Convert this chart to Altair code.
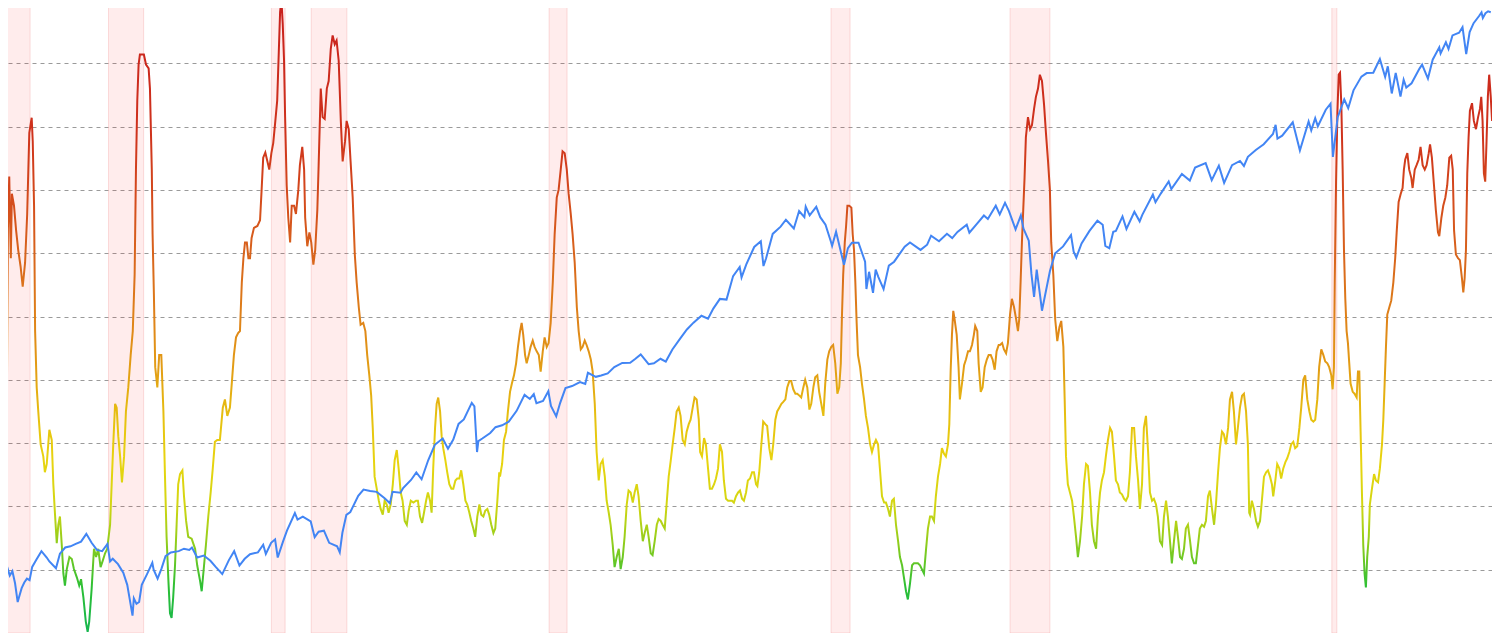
import altair as alt
import pandas as pd

# Recession periods (decimal years)
rec_start = [1969.92, 1973.84, 1980.01, 1981.52, 1990.53, 2001.21, 2007.99, 2020.18]
rec_end = [1970.87, 1975.17, 1980.53, 1982.87, 1991.21, 2001.93, 2009.50, 2020.37]

# Indicator (coloured line), 0-100 scale
c_years = [
    1969.99, 1970.03, 1970.08, 1970.14, 1970.18, 1970.26, 1970.34, 1970.42, 1970.51, 1970.59,
    1970.68, 1970.76, 1970.84, 1970.93, 1970.97, 1971.02, 1971.06, 1971.12, 1971.18, 1971.27,
    1971.37, 1971.43, 1971.50, 1971.60, 1971.69, 1971.75, 1971.81, 1971.88, 1971.94, 1972.00,
    1972.07, 1972.13, 1972.19, 1972.26, 1972.36, 1972.45, 1972.53, 1972.64, 1972.73, 1972.80,
    1972.89, 1972.98, 1973.05, 1973.11, 1973.20, 1973.29, 1973.37, 1973.45, 1973.54, 1973.62,
    1973.71, 1973.79, 1973.90, 1973.96, 1974.02, 1974.09, 1974.15, 1974.21, 1974.28, 1974.35,
    1974.43, 1974.50, 1974.59, 1974.68, 1974.76, 1974.83, 1974.88, 1974.93, 1974.98, 1975.03,
    1975.18, 1975.26, 1975.36, 1975.41, 1975.48, 1975.51, 1975.56, 1975.61, 1975.69, 1975.76,
    1975.84, 1975.92, 1975.98, 1976.04, 1976.11, 1976.17, 1976.23, 1976.29, 1976.36, 1976.42,
    1976.48, 1976.55, 1976.64, 1976.70, 1976.78, 1976.86, 1976.99, 1977.12, 1977.20, 1977.31,
    1977.37, 1977.46, 1977.53, 1977.62, 1977.71, 1977.79, 1977.87, 1977.96, 1978.06, 1978.17,
    1978.25, 1978.34, 1978.44, 1978.52, 1978.59, 1978.67, 1978.75, 1978.82, 1978.89, 1978.95,
    1979.01, 1979.08, 1979.14, 1979.20, 1979.26, 1979.35, 1979.48, 1979.58, 1979.64, 1979.70,
    1979.78, 1979.86, 1979.93, 1980.01, 1980.08, 1980.16, 1980.23, 1980.29, 1980.34, 1980.39,
    1980.44, 1980.49, 1980.53, 1980.59, 1980.65, 1980.72, 1980.78, 1980.87, 1980.94, 1981.03,
    1981.09, 1981.18, 1981.25, 1981.29, 1981.37, 1981.45, 1981.52, 1981.60, 1981.67, 1981.75,
    1981.80, 1981.88, 1981.95, 1982.03, 1982.11, 1982.18, 1982.26, 1982.33, 1982.41, 1982.48,
    1982.56, 1982.64, 1982.71, 1982.80, 1982.86, 1982.94, 1983.01, 1983.09, 1983.17, 1983.24,
    1983.32, 1983.39, 1983.49, 1983.57, 1983.64, 1983.72, 1983.79, 1983.85, 1983.92, 1984.00,
    1984.08, 1984.15, 1984.23, 1984.30, 1984.38, 1984.45, 1984.53, 1984.61, 1984.68, 1984.76,
    1984.83, 1984.91, 1984.98, 1985.06, 1985.14, 1985.21, 1985.29, 1985.39, 1985.49, 1985.56,
    1985.64, 1985.72, 1985.79, 1985.87, 1985.94, 1986.02, 1986.08, 1986.14, 1986.21, 1986.27,
    1986.33, 1986.40, 1986.46, 1986.52, 1986.60, 1986.67, 1986.75, 1986.83, 1986.90, 1986.98,
    1987.05, 1987.13, 1987.20, 1987.28, 1987.36, 1987.43, 1987.51, 1987.58, 1987.66, 1987.73,
    1987.81, 1987.89, 1987.96, 1988.04, 1988.11, 1988.19, 1988.26, 1988.34, 1988.42, 1988.49,
    1988.57, 1988.64, 1988.67, 1988.75, 1988.82, 1988.90, 1988.97, 1989.05, 1989.12, 1989.20,
    1989.28, 1989.35, 1989.43, 1989.49, 1989.55, 1989.62, 1989.68, 1989.76, 1989.83, 1989.91,
    1989.98, 1990.06, 1990.14, 1990.21, 1990.29, 1990.36, 1990.44, 1990.51, 1990.59, 1990.67,
    1990.74, 1990.82, 1990.89, 1990.97, 1991.04, 1991.12, 1991.20, 1991.27, 1991.35, 1991.42,
    1991.50, 1991.58, 1991.65, 1991.73, 1991.80, 1991.88, 1991.95, 1992.03, 1992.11, 1992.18,
    1992.26, 1992.33, 1992.41, 1992.48, 1992.56, 1992.64, 1992.71, 1992.79, 1992.86, 1992.94,
    1993.01, 1993.09, 1993.17, 1993.24, 1993.32, 1993.39, 1993.47, 1993.54, 1993.62, 1993.70,
    1993.77, 1993.85, 1993.92, 1994.00, 1994.08, 1994.15, 1994.23, 1994.30, 1994.38, 1994.45,
    1994.53, 1994.61, 1994.68, 1994.76, 1994.83, 1994.91, 1994.98, 1995.06, 1995.14, 1995.21,
    1995.29, 1995.36, 1995.44, 1995.51, 1995.59, 1995.67, 1995.74, 1995.82, 1995.89, 1995.97,
    1996.04, 1996.12, 1996.20, 1996.25, 1996.32, 1996.40, 1996.47, 1996.55, 1996.62, 1996.70,
    1996.78, 1996.85, 1996.93, 1997.00, 1997.08, 1997.15, 1997.23, 1997.31, 1997.38, 1997.46,
    1997.53, 1997.61, 1997.69, 1997.76, 1997.84, 1997.91, 1997.99, 1998.06, 1998.14, 1998.22,
    1998.29, 1998.37, 1998.42, 1998.49, 1998.57, 1998.64, 1998.72, 1998.79, 1998.87, 1998.95,
    1999.02, 1999.10, 1999.17, 1999.25, 1999.33, 1999.40, 1999.48, 1999.55, 1999.63, 1999.70,
    1999.78, 1999.86, 1999.93, 2000.01, 2000.08, 2000.16, 2000.23, 2000.31, 2000.39, 2000.46,
    2000.54, 2000.61, 2000.69, 2000.76, 2000.84, 2000.92, 2000.99, 2001.07, 2001.14, 2001.22,
    2001.29, 2001.37, 2001.45, 2001.52, 2001.58, 2001.62, 2001.67, 2001.73, 2001.78, 2001.83,
    2001.90, 2001.98, 2002.03, 2002.08, 2002.13, 2002.18, 2002.23, 2002.31, 2002.38, 2002.46,
    2002.53, 2002.61, 2002.69, 2002.76, 2002.84, 2002.91, 2002.99, 2003.06, 2003.14, 2003.22,
    2003.29, 2003.37, 2003.44, 2003.52, 2003.59, 2003.67, 2003.75, 2003.82, 2003.90, 2003.97,
    2004.05, 2004.12, 2004.20, 2004.28, 2004.35, 2004.43, 2004.50, 2004.58, 2004.65, 2004.73,
    2004.81, 2004.88, 2004.96, 2005.03, 2005.11, 2005.18, 2005.26, 2005.34, 2005.41, 2005.49,
    2005.56, 2005.64, 2005.69, 2005.74, 2005.79, 2005.84, 2005.89, 2005.97, 2006.04, 2006.09,
    2006.17, 2006.25, 2006.32, 2006.40, 2006.47, 2006.55, 2006.62, 2006.67, 2006.75, 2006.80,
    2006.88, 2006.95, 2007.03, 2007.11, 2007.18, 2007.26, 2007.33, 2007.41, 2007.48, 2007.56,
    2007.61, 2007.69, 2007.76, 2007.84, 2007.91, 2007.99, 2008.06, 2008.14, 2008.22, 2008.29,
    2008.34, 2008.39, 2008.44, 2008.49, 2008.54, 2008.59, 2008.67, 2008.75, 2008.82, 2008.90,
    2008.97, 2009.05, 2009.12, 2009.20, 2009.28, 2009.35, 2009.43, 2009.50, 2009.55, 2009.63,
    2009.70, 2009.78, 2009.86, 2009.93, 2010.01, 2010.06, 2010.11, 2010.18, 2010.26, 2010.34,
    2010.41, 2010.49, 2010.56, 2010.64, 2010.72, 2010.79, 2010.87, 2010.94, 2011.02, 2011.09,
    2011.17, 2011.25, 2011.32, 2011.40, 2011.47, 2011.55, 2011.62, 2011.70, 2011.78, 2011.85,
    2011.93, 2012.00, 2012.08, 2012.15, 2012.23, 2012.31, 2012.38, 2012.46, 2012.53, 2012.61,
    2012.69, 2012.76, 2012.84, 2012.91, 2012.99, 2013.06, 2013.14, 2013.22, 2013.29, 2013.37,
    2013.44, 2013.52, 2013.59, 2013.67, 2013.75, 2013.82, 2013.90, 2013.97, 2014.05, 2014.12,
    2014.20, 2014.28, 2014.35, 2014.43, 2014.50, 2014.58, 2014.65, 2014.73, 2014.81, 2014.88,
    2014.96, 2015.03, 2015.11, 2015.18, 2015.26, 2015.34, 2015.41, 2015.49, 2015.56, 2015.64,
    2015.72, 2015.79, 2015.87, 2015.94, 2016.02, 2016.09, 2016.17, 2016.25, 2016.32, 2016.40,
    2016.47, 2016.55, 2016.62, 2016.70, 2016.78, 2016.85, 2016.93, 2017.00, 2017.05, 2017.08,
    2017.15, 2017.23, 2017.31, 2017.38, 2017.46, 2017.53, 2017.61, 2017.69, 2017.76, 2017.84,
    2017.91, 2017.96, 2018.04, 2018.11, 2018.19, 2018.26, 2018.34, 2018.42, 2018.49, 2018.57,
    2018.64, 2018.72, 2018.79, 2018.87, 2018.95, 2019.02, 2019.10, 2019.17, 2019.25, 2019.33,
    2019.40, 2019.48, 2019.55, 2019.63, 2019.70, 2019.78, 2019.86, 2019.93, 2020.01, 2020.08,
    2020.16, 2020.21, 2020.26, 2020.29, 2020.34, 2020.39, 2020.44, 2020.49, 2020.54, 2020.59,
    2020.64, 2020.69, 2020.74, 2020.79, 2020.84, 2020.89, 2020.97, 2021.04, 2021.12, 2021.17,
    2021.22, 2021.27, 2021.32, 2021.37, 2021.42, 2021.47, 2021.52, 2021.58, 2021.62, 2021.70,
    2021.78, 2021.85, 2021.93, 2022.00, 2022.08, 2022.13, 2022.18, 2022.23, 2022.28, 2022.36,
    2022.43, 2022.51, 2022.58, 2022.64, 2022.71, 2022.79, 2022.86, 2022.91, 2022.96, 2023.04,
    2023.11, 2023.19, 2023.24, 2023.32, 2023.39, 2023.47, 2023.54, 2023.62, 2023.70, 2023.77,
    2023.85, 2023.90, 2023.97, 2024.05, 2024.12, 2024.20, 2024.25, 2024.33, 2024.40, 2024.48,
    2024.55, 2024.63, 2024.70, 2024.76, 2024.81, 2024.88, 2024.96, 2025.03, 2025.11, 2025.16,
    2025.21, 2025.26, 2025.31, 2025.36, 2025.41, 2025.49, 2025.56, 2025.64, 2025.72, 2025.79,
    2025.84, 2025.89, 2025.94, 2025.99, 2026.04, 2026.09, 2026.14, 2026.20, 2026.25,
]
c_values = [
    37.2, 63.8, 72.1, 59.2, 69.4, 67.5, 63.6, 60.5, 57.9, 54.7,
    58.5, 66.2, 79, 81.4, 77.7, 67.5, 47.7, 38.8, 35, 29.8,
    27.9, 25.4, 26.7, 32.1, 30.5, 23.5, 19, 14.2, 17.1, 18.4,
    13.9, 9.4, 7.5, 10.1, 12, 11.7, 10.1, 8.8, 7.5, 8.5,
    5.6, 1.8, 0.2, 1.8, 6.9, 13.3, 12, 13.3, 10.4, 11.4,
    12.6, 13.3, 17.1, 23.5, 29.8, 36.2, 35.6, 31.1, 27.9, 23.8,
    27.9, 35, 38.8, 43.9, 47.7, 56.6, 73.2, 84.1, 89.8, 91.4,
    91.4, 89.8, 89.2, 86, 73.2, 63, 53.4, 42, 38.8, 43.9,
    43.9, 35, 24.7, 15.2, 8.2, 3.1, 2.4, 5.6, 10.7, 17.1,
    23.5, 25.1, 25.7, 21.6, 17.7, 15.2, 14.9, 13.3, 10.7, 8.2,
    6.6, 10.7, 13.9, 18.4, 22.2, 26, 30.2, 30.5, 30.5, 35.6,
    36.9, 34.3, 35.6, 40, 43.9, 46.7, 47.4, 47.7, 55.4, 59.2,
    61.7, 61.7, 59.2, 59.2, 62.4, 64, 64.3, 65.2, 70, 75.1,
    75.9, 74.5, 73.2, 75.8, 77.4, 80.9, 84.1, 91.7, 98.1, 100,
    96.2, 90.4, 81.5, 70.7, 65.6, 61.7, 67.5, 67.5, 66.2, 70,
    73.9, 76.8, 73.2, 65.6, 61.1, 63.3, 61.7, 58.2, 60.5, 66.8,
    73.9, 86, 81.5, 81.2, 86, 87.2, 92.3, 94.4, 93, 93.6,
    90.4, 80.9, 74.5, 77.7, 80.9, 79.6, 74.5, 68.8, 59.8, 55.4,
    51.5, 48.7, 49, 47.7, 43.9, 40.7, 37.5, 32.4, 24.7, 22.8,
    20.9, 19.6, 18.7, 20.9, 20.3, 19, 20.3, 23.5, 27.3, 28.9,
    26, 22.2, 20.9, 17.7, 17.1, 19.3, 20.9, 20.6, 20.9, 20.9,
    18.4, 17.4, 19, 20.9, 22.2, 20.9, 19, 26, 32.4, 36.2,
    37.2, 35, 31.1, 29.2, 27.3, 25.4, 23.5, 22.8, 22.8, 24.1,
    24.4, 24.4, 25.7, 23.5, 20.9, 20.3, 19, 17.7, 16.5, 15.2,
    18.4, 20.3, 18.7, 18.4, 19.3, 19.6, 18.7, 17.1, 15.8, 16.5,
    20.9, 25.4, 24.7, 26.7, 30.5, 31.8, 35, 38.1, 39.4, 40.7,
    42.6, 45.2, 47.7, 49, 47.1, 43.9, 42.6, 43.9, 45.2, 46.2,
    45.2, 44.5, 43.9, 41.3, 44.5, 46.7, 45.2, 45.8, 49, 55.4,
    63, 68.8, 70, 73.2, 76.1, 75.8, 73.2, 69.4, 66.2, 63,
    58.5, 51.5, 47.7, 44.8, 45.2, 46.2, 45.5, 44.5, 43.2, 41.3,
    36.2, 28.6, 24.1, 26.7, 27.3, 24.7, 20.9, 19, 17.1, 13.9,
    10.4, 12, 13.3, 10.1, 12, 15.2, 20.3, 22.5, 22.2, 20.6,
    22.2, 23.5, 21.6, 17.7, 14.5, 15.8, 17.1, 15.2, 12.6, 12.3,
    14.5, 17.1, 18, 17.7, 17.1, 16.5, 20.3, 24.7, 27.3, 29.8,
    32.4, 35, 35.6, 34.3, 30.5, 29.8, 31.8, 33, 33.7, 35.6,
    37.2, 36.9, 33.7, 28.6, 27.9, 30.8, 29.8, 26, 22.8, 22.8,
    23.5, 24.4, 26, 29.8, 28.6, 24.1, 21.2, 20.9, 20.9, 20.9,
    20.6, 21.6, 22.2, 22.5, 21.2, 20.9, 22.2, 24.1, 24.4, 25.4,
    25.4, 23.5, 23.2, 25.4, 29.8, 33.4, 33, 32.7, 29.2, 27.3,
    29.8, 33.7, 35, 35.6, 36.2, 36.5, 36.9, 38.8, 39.8, 39.8,
    38.5, 37.8, 37.8, 37.5, 37.2, 38.8, 40, 38.8, 35.3, 36.2,
    38.8, 40.4, 40.7, 38.1, 36.2, 34.3, 39.4, 43.2, 44.5, 45.2,
    45.5, 42.6, 37.8, 38.8, 42.6, 49.6, 56.6, 61.7, 64.3, 67.5,
    67.5, 67.2, 63, 60.5, 55.4, 49, 43.9, 42, 39.4, 36.9,
    34.3, 32.4, 29.8, 28.6, 29.8, 30.5, 29.8, 26, 21.6, 20.6,
    20.6, 19.6, 18.4, 20.9, 21.2, 17.1, 14.5, 12, 10.7, 8.8,
    6.6, 5.3, 7.8, 10.7, 11, 11, 11, 10.7, 10.1, 9.4,
    13.3, 16.5, 18.4, 18.4, 17.7, 21.6, 24.7, 26.7, 29.2, 28.3,
    27.9, 29.8, 33, 41.3, 47.1, 50.9, 49.6, 47.1, 42, 36.9,
    39.4, 42.3, 43.2, 44.5, 44.5, 45.5, 47.1, 48.5, 47.7, 42.6,
    38.1, 38.8, 42, 43.2, 43.9, 43.9, 43.2, 41.6, 44.5, 45.5,
    45.5, 45.8, 44.8, 44.2, 45.8, 50.3, 52.8, 51.5, 49.6, 47.7,
    49.6, 55.4, 61.7, 66.8, 71.9, 78.3, 81.5, 79.6, 80.2, 82.8,
    84.7, 86, 88.2, 87.2, 83.4, 79, 74.5, 70, 61.7, 56.6,
    49.6, 46.1, 48.3, 49.3, 45.2, 36.9, 27.9, 23.5, 22.2, 20.9,
    18.4, 15.2, 12, 14.5, 18.4, 23.5, 26.7, 26.4, 22.2, 17.1,
    14.5, 13.3, 18.4, 22.2, 24.1, 25.4, 27.9, 30.5, 32.4, 31.8,
    27.9, 24.1, 23.5, 22.2, 21.9, 21.2, 20.9, 21.6, 25.4, 32.4,
    32.4, 27.9, 24.1, 19.6, 23.5, 32.4, 34.3, 28.6, 22.2, 20.9,
    21.2, 20.3, 18.4, 14.5, 13.9, 18.4, 20.9, 18.4, 14.5, 11,
    14.5, 17.7, 15.2, 12, 11.7, 13.3, 16.5, 17.1, 14.5, 12,
    11, 11, 13.9, 16.5, 17.1, 16.8, 17.7, 21.6, 22.5, 19.6,
    17.1, 20.3, 25.4, 29.2, 31.8, 31.4, 29.8, 32.4, 36.9, 38.1,
    35, 29.8, 32.4, 35.6, 37.5, 37.8, 35, 29.8, 19, 18.7,
    20.9, 19.6, 17.7, 16.8, 17.7, 20.9, 24.7, 25.4, 25.7, 24.7,
    23.5, 21.6, 24.1, 26.7, 26, 24.4, 26, 27, 27.6, 28.6,
    29.8, 30.2, 29.2, 29.5, 32.4, 35.6, 40, 40.7, 36.9, 35,
    33.7, 33.4, 33.7, 36.9, 42, 44.8, 43.9, 42.9, 42.6, 42,
    40.7, 38.5, 42, 55.4, 71.3, 82.1, 88.2, 88.5, 83.4, 73.2,
    60.5, 52.8, 47.7, 45.8, 42.6, 39.4, 38.1, 37.8, 37.2, 41.3,
    41.3, 31.8, 22.2, 13.9, 9.4, 7.2, 12, 15.2, 20.3, 22.8,
    25.1, 24.1, 23.8, 26, 29.8, 33.7, 39.4, 45.2, 50.3, 51.5,
    52.5, 55.4, 59.2, 63.6, 68.1, 69.4, 70.3, 73.2, 74.8, 75.8,
    73.2, 71.9, 70.3, 73.2, 73.9, 74.8, 76.8, 73.9, 73.2, 73.9,
    75.8, 77.2, 75.1, 70.7, 66.8, 63.3, 62.7, 65.6, 67.5, 68.8,
    70.7, 75.1, 75.4, 73.2, 63.6, 59.8, 59.2, 58.9, 56, 53.8,
    56, 60.5, 72.6, 78.3, 82.5, 83.7, 80.9, 79.6, 81.5, 82.8,
    84.7, 80.9, 72.6, 71.3, 77.7, 84.7, 88.2, 84.7, 80.9,
]

# S&P 500 (log scale)
spx_years = [
    1970.00, 1970.10, 1970.20, 1970.30, 1970.40, 1970.45, 1970.55, 1970.65, 1970.75, 1970.85,
    1970.95, 1971.10, 1971.30, 1971.50, 1971.60, 1971.85, 1972.00, 1972.20, 1972.40, 1972.60,
    1972.80, 1973.00, 1973.20, 1973.40, 1973.60, 1973.80, 1973.90, 1974.00, 1974.20, 1974.40,
    1974.55, 1974.65, 1974.75, 1974.80, 1974.90, 1975.00, 1975.10, 1975.30, 1975.50, 1975.55,
    1975.70, 1975.85, 1976.00, 1976.20, 1976.50, 1976.70, 1976.90, 1977.00, 1977.20, 1977.45,
    1977.70, 1977.90, 1978.15, 1978.40, 1978.60, 1978.80, 1979.00, 1979.20, 1979.50, 1979.70,
    1979.80, 1980.00, 1980.15, 1980.25, 1980.45, 1980.60, 1980.90, 1981.00, 1981.20, 1981.50,
    1981.65, 1981.80, 1982.00, 1982.20, 1982.50, 1982.60, 1982.70, 1982.85, 1983.00, 1983.30,
    1983.50, 1983.75, 1984.00, 1984.30, 1984.50, 1984.60, 1984.90, 1985.00, 1985.30, 1985.50,
    1985.70, 1985.95, 1986.20, 1986.50, 1986.70, 1986.90, 1987.10, 1987.30, 1987.60, 1987.70,
    1987.80, 1987.85, 1988.00, 1988.30, 1988.50, 1988.75, 1989.00, 1989.30, 1989.60, 1989.80,
    1989.95, 1990.05, 1990.30, 1990.50, 1990.60, 1990.80, 1990.95, 1991.15, 1991.40, 1991.70,
    1991.90, 1992.00, 1992.30, 1992.50, 1992.75, 1993.00, 1993.30, 1993.60, 1993.80, 1994.00,
    1994.30, 1994.50, 1994.75, 1994.95, 1995.20, 1995.50, 1995.75, 1996.00, 1996.30, 1996.55,
    1996.75, 1997.00, 1997.25, 1997.50, 1997.75, 1997.82, 1998.00, 1998.30, 1998.55, 1998.65,
    1998.75, 1999.00, 1999.30, 1999.50, 1999.80, 2000.00, 2000.20, 2000.25, 2000.40, 2000.65,
    2000.80, 2001.00, 2001.20, 2001.25, 2001.40, 2001.70, 2001.85, 2002.00, 2002.25, 2002.50,
    2002.55, 2002.65, 2002.80, 2002.90, 2003.00, 2003.20, 2003.40, 2003.60, 2003.80, 2004.00,
    2004.20, 2004.60, 2004.85, 2005.00, 2005.30, 2005.60, 2005.80, 2006.00, 2006.35, 2006.45,
    2006.75, 2007.00, 2007.15, 2007.45, 2007.60, 2007.80, 2007.95, 2008.20, 2008.40, 2008.50,
    2008.70, 2008.80, 2008.90, 2009.00, 2009.15, 2009.20, 2009.50, 2009.70, 2010.00, 2010.30,
    2010.40, 2010.50, 2010.70, 2011.00, 2011.30, 2011.50, 2011.60, 2011.75, 2011.90, 2012.00,
    2012.25, 2012.40, 2012.70, 2012.90, 2013.00, 2013.40, 2013.50, 2013.70, 2014.00, 2014.10,
    2014.50, 2014.80, 2015.00, 2015.40, 2015.63, 2015.90, 2016.10, 2016.40, 2016.70, 2016.85,
    2017.00, 2017.30, 2017.60, 2017.95, 2018.05, 2018.12, 2018.30, 2018.70, 2018.97, 2019.30,
    2019.40, 2019.55, 2019.65, 2019.95, 2020.13, 2020.22, 2020.40, 2020.65, 2020.80, 2021.00,
    2021.30, 2021.50, 2021.75, 2022.00, 2022.20, 2022.30, 2022.45, 2022.60, 2022.78, 2022.90,
    2023.00, 2023.20, 2023.50, 2023.60, 2023.82, 2024.00, 2024.25, 2024.30, 2024.50, 2024.60,
    2024.75, 2025.00, 2025.13, 2025.27, 2025.40, 2025.55, 2025.75, 2025.85, 2025.90, 2026.00,
    2026.10, 2026.20,
]
spx_values = [
    92, 86, 89, 81, 70, 72.7, 78, 81.5, 84, 83,
    92, 97, 104, 99, 96, 91, 102, 107, 108, 110,
    112, 119, 111, 105, 104, 110, 96, 98, 94, 88,
    80, 71, 63, 72, 69, 70, 80, 87, 95, 90,
    84, 91, 100, 103, 104, 106, 105, 107, 99, 100.5,
    96.5, 92, 87, 97, 104, 93, 98, 101.6, 103, 109.3,
    101.8, 111, 114, 99, 112, 122, 140, 133, 136, 131,
    116, 121, 122, 111, 108, 103, 120, 138, 141, 160,
    168, 166, 165, 157, 151, 165, 164, 170, 181, 192,
    182, 211, 238, 250, 231, 248, 280, 290, 330, 321,
    225, 245, 250, 261, 273, 277, 285, 310, 351, 340,
    353, 329, 335, 361, 322, 297, 330, 370, 376, 388,
    382, 417, 404, 408, 415, 436, 450, 451, 465, 481,
    446, 449, 465, 455, 500, 545, 584, 616, 650, 635,
    687, 741, 737, 885, 950, 876, 970, 1110, 1160, 957,
    1017, 1229, 1300, 1372, 1282, 1469, 1400, 1520, 1420, 1517,
    1400, 1320, 1160, 1120, 1250, 966, 1100, 1148, 1147, 990,
    800, 915, 777, 930, 880, 800, 960, 990, 1050, 1112,
    1150, 1085, 1130, 1212, 1160, 1230, 1190, 1248, 1320, 1240,
    1335, 1418, 1380, 1530, 1430, 1565, 1468, 1273, 1420, 1280,
    1166, 900, 752, 930, 735, 676, 919, 1057, 1115, 1217,
    1070, 1022, 1141, 1258, 1363, 1320, 1119, 1099, 1250, 1258,
    1408, 1278, 1460, 1355, 1426, 1669, 1573, 1682, 1848, 1741,
    1960, 1862, 2059, 2131, 1867, 2090, 1829, 2099, 2168, 2085,
    2239, 2363, 2470, 2674, 2873, 2581, 2641, 2930, 2351, 2946,
    2752, 3025, 2840, 3231, 3386, 2237, 3044, 3500, 3270, 3756,
    4181, 4297, 4307, 4796, 4170, 4530, 3667, 4305, 3577, 4080,
    3839, 3970, 4450, 4588, 4117, 4770, 5254, 5011, 5460, 5186,
    5762, 5881, 6144, 4982, 5912, 6339, 6688, 6890, 6600, 6845,
    6950, 6900,
]

X_DOMAIN = [1969.73, 2026.55]

bands = pd.DataFrame({"start": rec_start, "end": rec_end})
ind = pd.DataFrame({"year": c_years, "value": c_values})
spx = pd.DataFrame({"year": spx_years, "spx": spx_values})

xscale = alt.Scale(domain=X_DOMAIN, nice=False, zero=False)

band_layer = alt.Chart(bands).mark_rect(
    fill="#ff0000", fillOpacity=0.075, stroke="#f08080", strokeOpacity=0.25, strokeWidth=1
).encode(
    x=alt.X("start:Q", scale=xscale, axis=None),
    x2="end:Q",
)

grad = alt.LinearGradient(
    gradient="linear",
    x1=0, x2=0, y1=1, y2=0,
    stops=[
        alt.GradientStop(color="#17b64f", offset=0.0),
        alt.GradientStop(color="#2bbf35", offset=0.07),
        alt.GradientStop(color="#8fcd1c", offset=0.14),
        alt.GradientStop(color="#d2d612", offset=0.20),
        alt.GradientStop(color="#e8d40f", offset=0.27),
        alt.GradientStop(color="#e6c010", offset=0.34),
        alt.GradientStop(color="#e3a014", offset=0.41),
        alt.GradientStop(color="#df8419", offset=0.49),
        alt.GradientStop(color="#d9691c", offset=0.58),
        alt.GradientStop(color="#d44c1c", offset=0.68),
        alt.GradientStop(color="#cf321c", offset=0.79),
        alt.GradientStop(color="#c8201d", offset=1.0),
    ],
)

ind_layer = alt.Chart(ind).mark_line(stroke=grad, strokeWidth=2).encode(
    x=alt.X("year:Q", scale=xscale, axis=None),
    y=alt.Y(
        "value:Q",
        scale=alt.Scale(domain=[0, 100], nice=False, zero=False),
        axis=alt.Axis(
            values=list(range(0, 101, 10)),
            labels=False, ticks=False, domain=False, title=None,
            grid=True, gridDash=[4, 4], gridColor="#9a9a9a", gridWidth=1,
            minExtent=0, maxExtent=0,
        ),
    ),
)

spx_layer = alt.Chart(spx).mark_line(color="#4285f4", strokeWidth=2).encode(
    x=alt.X("year:Q", scale=xscale, axis=None),
    y=alt.Y("spx:Q", scale=alt.Scale(type="log", domain=[55, 7590], nice=False), axis=None),
)

chart = (
    alt.layer(band_layer, ind_layer, spx_layer)
    .resolve_scale(y="independent")
    .properties(
        width=1500,
        height=633,
        padding={"left": -8, "top": -8, "right": -8, "bottom": 0},
        autosize=alt.AutoSizeParams(type="none"),
        background="white",
    )
    .configure_view(stroke=None)
)

chart.save("out.html", embed_options={"renderer": "svg", "actions": False})
